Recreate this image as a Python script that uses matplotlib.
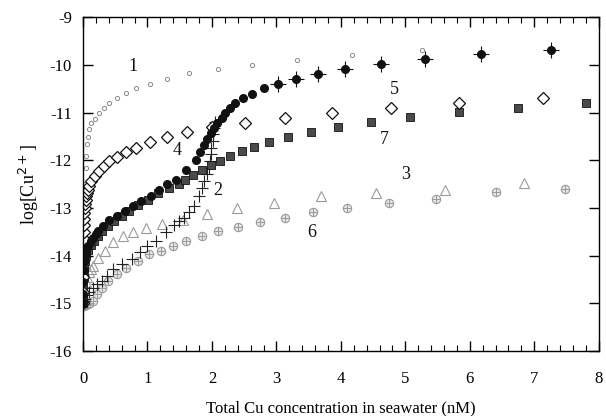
import matplotlib
matplotlib.use("Agg")
import matplotlib.pyplot as plt
import numpy as np
from matplotlib.ticker import MultipleLocator

plt.rcParams['font.family'] = ['Liberation Serif', 'DejaVu Serif']

# ---- data ----
x1 = [0.0, 0.003, 0.006, 0.01, 0.015, 0.02, 0.03, 0.04, 0.05, 0.065, 0.08, 0.1, 0.13, 0.18, 0.25,
      0.32, 0.40, 0.52, 0.66, 0.82, 1.04, 1.31, 1.64, 2.09, 2.62, 3.32, 4.18, 5.26]
y1 = [-15.0, -14.6, -14.2, -13.8, -13.4, -13.0, -12.5, -12.15, -11.9, -11.65, -11.5, -11.35, -11.22,
      -11.12, -11.01, -10.89, -10.80, -10.70, -10.59, -10.49, -10.39, -10.29, -10.17, -10.09, -10.0,
      -9.89, -9.78, -9.68]

x2 = [0.0, 0.01, 0.03, 0.06, 0.10, 0.15, 0.21, 0.29, 0.37, 0.47, 0.60, 0.76, 0.88, 1.00, 1.13, 1.29,
      1.41, 1.49, 1.57, 1.64, 1.72, 1.80, 1.85, 1.88, 1.93, 1.95, 1.97, 1.98, 1.99, 2.01, 2.02, 2.03, 2.05]
y2 = [-15.0, -14.95, -14.9, -14.83, -14.75, -14.67, -14.6, -14.53, -14.42, -14.28, -14.18, -14.06,
      -13.92, -13.79, -13.69, -13.51, -13.36, -13.28, -13.20, -13.09, -12.96, -12.75, -12.57, -12.43,
      -12.29, -12.15, -12.01, -11.87, -11.73, -11.59, -11.45, -11.31, -11.2]

x3 = [0.0, 0.01, 0.02, 0.04, 0.06, 0.09, 0.12, 0.16, 0.24, 0.34, 0.47, 0.62, 0.77, 0.98, 1.23, 1.55,
      1.93, 2.39, 2.97, 3.69, 4.54, 5.61, 6.84]
y3 = [-15.0, -14.85, -14.7, -14.55, -14.45, -14.35, -14.28, -14.21, -14.04, -13.90, -13.72, -13.58,
      -13.51, -13.41, -13.34, -13.25, -13.13, -12.99, -12.90, -12.75, -12.68, -12.61, -12.47]

x4 = [0.0, 0.001, 0.002, 0.004, 0.006, 0.008, 0.01, 0.013, 0.016, 0.02, 0.025, 0.03, 0.04, 0.05,
      0.065, 0.08, 0.10, 0.13, 0.18, 0.25, 0.32, 0.41, 0.52, 0.66, 0.82, 1.04, 1.30, 1.62, 2.0, 2.51,
      3.13, 3.87, 4.77, 5.84, 7.13]
y4 = [-15.0, -14.75, -14.45, -14.1, -13.85, -13.65, -13.5, -13.35, -13.22, -13.1, -13.0, -12.92,
      -12.82, -12.75, -12.68, -12.62, -12.54, -12.43, -12.33, -12.22, -12.12, -12.01, -11.92, -11.82,
      -11.73, -11.61, -11.50, -11.40, -11.30, -11.21, -11.10, -11.0, -10.89, -10.79, -10.69]

x5 = [0.0, 0.002, 0.005, 0.01, 0.02, 0.03, 0.05, 0.08, 0.12, 0.16, 0.2, 0.24, 0.31, 0.41, 0.52, 0.65,
      0.77, 0.90, 1.05, 1.18, 1.30, 1.44, 1.60, 1.75, 1.82, 1.88, 1.93, 1.98, 2.03, 2.08, 2.15, 2.21,
      2.28, 2.36, 2.48, 2.62, 2.80, 3.03, 3.30, 3.64, 4.07, 4.62, 5.30, 6.18, 7.26]
y5 = [-15.0, -14.8, -14.55, -14.3, -14.1, -14.0, -13.9, -13.79, -13.7, -13.62, -13.55, -13.48, -13.37,
      -13.25, -13.17, -13.06, -12.96, -12.85, -12.75, -12.62, -12.50, -12.40, -12.21, -11.98, -11.82,
      -11.67, -11.54, -11.42, -11.31, -11.21, -11.10, -11.0, -10.89, -10.80, -10.70, -10.60, -10.49,
      -10.39, -10.29, -10.19, -10.08, -9.98, -9.87, -9.77, -9.68]

x6 = [0.0, 0.02, 0.05, 0.08, 0.11, 0.16, 0.21, 0.29, 0.39, 0.52, 0.67, 0.85, 1.03, 1.21, 1.39, 1.59,
      1.84, 2.09, 2.40, 2.74, 3.13, 3.56, 4.10, 4.74, 5.48, 6.41, 7.48]
y6 = [-15.05, -15.05, -15.03, -15.02, -15.0, -14.95, -14.81, -14.67, -14.53, -14.39, -14.25, -14.11,
      -13.97, -13.90, -13.79, -13.70, -13.58, -13.49, -13.39, -13.30, -13.20, -13.09, -12.99, -12.89,
      -12.80, -12.66, -12.59]

x7 = [0.0, 0.003, 0.006, 0.01, 0.02, 0.03, 0.05, 0.08, 0.12, 0.17, 0.23, 0.30, 0.38, 0.48, 0.60, 0.72,
      0.86, 1.01, 1.17, 1.33, 1.49, 1.58, 1.71, 1.84, 1.99, 2.13, 2.28, 2.46, 2.66, 2.89, 3.18, 3.53,
      3.95, 4.46, 5.07, 5.83, 6.74, 7.81]
y7 = [-15.0, -14.85, -14.65, -14.45, -14.25, -14.12, -14.0, -13.88, -13.78, -13.68, -13.58, -13.48,
      -13.38, -13.27, -13.16, -13.05, -12.93, -12.82, -12.69, -12.57, -12.50, -12.41, -12.31, -12.20,
      -12.10, -12.01, -11.91, -11.80, -11.71, -11.61, -11.50, -11.40, -11.30, -11.19, -11.09, -10.98,
      -10.89, -10.79]

curve_labels = ["1", "2", "3", "4", "5", "6", "7"]
label_x = [0.77, 2.09, 5.0, 1.46, 4.83, 3.55, 4.68]
label_y = [-10.02, -12.64, -12.29, -11.80, -10.52, -13.51, -11.57]

xticks = [0, 1, 2, 3, 4, 5, 6, 7, 8]
yticks = [-16, -15, -14, -13, -12, -11, -10, -9]

fig = plt.figure(figsize=(6.06, 4.16), dpi=100)
ax = fig.add_axes([0.137, 0.156, 0.851, 0.802])

# grey series
ax.plot(x6, y6, ls='none', marker='o', ms=6, mfc='#e6e6e6', mec='#9a9a9a', mew=0.8)
ax.plot(x6, y6, ls='none', marker='+', ms=6, mec='#9a9a9a', mew=0.7)
ax.plot(x3, y3, ls='none', marker='^', ms=6.5, mfc='none', mec='#9a9a9a', mew=0.8)
ax.plot(x1, y1, ls='none', marker='o', ms=3, mfc='white', mec='#8a8a8a', mew=0.7)
# black series
ax.plot(x2, y2, ls='none', marker='+', ms=9, mec='#222222', mew=0.8)
ax.plot(x7, y7, ls='none', marker='s', ms=5.5, mfc='#4a4a4a', mec='#111111', mew=0.6)
ax.plot(x4, y4, ls='none', marker='D', ms=6.5, mfc='white', mec='#111111', mew=0.9)
ax.plot(x5, y5, ls='none', marker='o', ms=5.5, mfc='#111111', mec='#111111')
x5a = np.array(x5)
y5a = np.array(y5)
hi = x5a > 3.0
ax.plot(x5a[hi], y5a[hi], ls='none', marker='+', ms=11, mec='#111111', mew=0.8)

for t, lx, ly in zip(curve_labels, label_x, label_y):
    ax.text(lx, ly, t, fontsize=13, ha='center', va='center', color='#111111')

ax.set_xlim(0, 8)
ax.set_ylim(-16, -9)
ax.set_xticks(xticks)
ax.set_yticks(yticks)
ax.set_xticklabels([str(v) for v in xticks])
ax.set_yticklabels([str(v) for v in yticks])
ax.xaxis.set_minor_locator(MultipleLocator(0.2))
ax.tick_params(which='both', direction='in', top=True, right=True, labelsize=12)
ax.tick_params(which='major', length=7, width=1.0)
ax.tick_params(which='minor', length=4, width=0.8)
ax.tick_params(axis='x', which='major', pad=14)
ax.tick_params(axis='y', which='major', pad=8)

ax.set_xlabel('Total Cu concentration in seawater (nM)', fontsize=12, labelpad=10)
ax.set_ylabel(r'log[Cu$^{2+}$]', fontsize=13, labelpad=6)
for s in ax.spines.values():
    s.set_linewidth(1.0)

fig.savefig('out.png', dpi=100)
